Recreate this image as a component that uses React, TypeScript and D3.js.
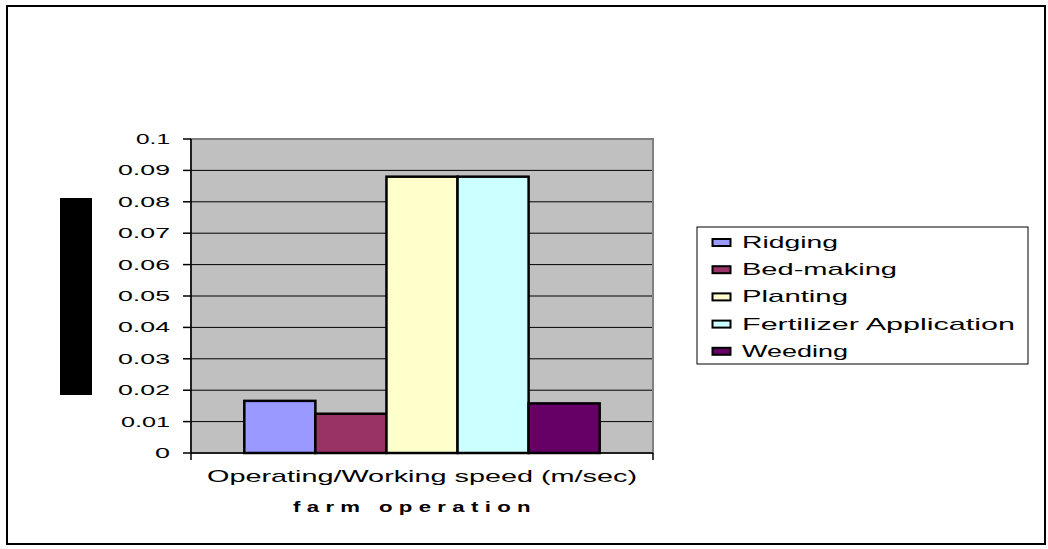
import React from 'react';
import * as d3 from 'd3';

const categories = ['Ridging', 'Bed-making', 'Planting', 'Fertilizer Application', 'Weeding'];
const values = [0.0166, 0.0125, 0.088, 0.088, 0.0158];
const colors = ['#9999FF', '#993366', '#FFFFCC', '#CCFFFF', '#660066'];
const yTicks = [0, 0.01, 0.02, 0.03, 0.04, 0.05, 0.06, 0.07, 0.08, 0.09, 0.1];
const groupLabel = 'Operating/Working speed (m/sec)';
const xTitle = 'farm operation';

const width = 1048;
const height = 549;
const plot = { left: 191, right: 653, top: 139, bottom: 453 };
const font = 'Arial, "Liberation Sans", sans-serif';
// the old chart renders its text stretched wide; widths
const legendTextWidth = [96, 155, 106, 273, 106];

const tickWidth = (s: string) =>
  s.split('').reduce((w, ch) => w + (ch === '.' ? 7 : ch === '1' ? 12 : 15), 0);

const App = () => {
  const y = d3.scaleLinear().domain([0, 0.1]).range([plot.bottom, plot.top]);
  const x = d3.scaleBand()
    .domain(categories)
    .range([plot.left, plot.right])
    .paddingInner(0)
    .paddingOuter(0.75);

  return (
    <svg width={width} height={height} style={{ position: 'absolute', left: 0, top: 0 }}>
      <rect x={0} y={0} width={width} height={height} fill="#fff" />
      <rect x={7} y={6} width={1038} height={538} fill="#fff" stroke="#000" strokeWidth={2} />

      {/* plot area */}
      <rect x={plot.left} y={plot.top} width={plot.right - plot.left} height={plot.bottom - plot.top}
        fill="#C0C0C0" stroke="#808080" strokeWidth={2} />
      {yTicks.slice(1, -1).map(t => (
        <line key={t} x1={plot.left} x2={plot.right - 1} y1={y(t)} y2={y(t)} stroke="#000" strokeWidth={1} />
      ))}

      {categories.map((c, i) => (
        <rect key={c} x={x(c)} y={y(values[i])} width={x.bandwidth()} height={plot.bottom - y(values[i])}
          fill={colors[i]} stroke="#000" strokeWidth={2.5} />
      ))}

      {/* y axis */}
      <line x1={plot.left} x2={plot.left} y1={plot.top} y2={plot.bottom} stroke="#000" strokeWidth={1.5} />
      {yTicks.map(t => {
        const s = String(t);
        const w = tickWidth(s);
        return (
          <g key={t}>
            <line x1={plot.left - 8} x2={plot.left} y1={y(t)} y2={y(t)} stroke="#000" strokeWidth={1.5} />
            <text x={170 - w} y={y(t) + 5} fontFamily={font} fontSize={14}
              textLength={w} lengthAdjust="spacingAndGlyphs">{s}</text>
          </g>
        );
      })}

      {/* x axis */}
      <line x1={plot.left} x2={plot.right} y1={plot.bottom} y2={plot.bottom} stroke="#000" strokeWidth={1.5} />
      <line x1={plot.left} x2={plot.left} y1={plot.bottom} y2={plot.bottom + 7} stroke="#000" strokeWidth={1.5} />
      <line x1={plot.right} x2={plot.right} y1={plot.bottom} y2={plot.bottom + 7} stroke="#000" strokeWidth={1.5} />
      <text x={207} y={482} fontFamily={font} fontSize={17}
        textLength={430} lengthAdjust="spacingAndGlyphs">{groupLabel}</text>
      <text x={293} y={512} fontFamily={font} fontSize={14} fontWeight="bold" letterSpacing={4}
        textLength={244} lengthAdjust="spacingAndGlyphs">{xTitle}</text>

      {/* y title placeholder */}
      <rect x={60} y={198} width={32} height={197} fill="#000" />

      {/* legend */}
      <rect x={697} y={227} width={331} height={137} fill="#fff" stroke="#000" strokeWidth={1} />
      {categories.map((c, i) => {
        const cy = 242.5 + i * 27.2;
        return (
          <g key={c}>
            <rect x={712.5} y={cy - 3.5} width={18} height={7} fill={colors[i]} stroke="#000" strokeWidth={2} />
            <text x={742} y={cy + 5.5} fontFamily={font} fontSize={17}
              textLength={legendTextWidth[i]} lengthAdjust="spacingAndGlyphs">{c}</text>
          </g>
        );
      })}
    </svg>
  );
};

export default App;
